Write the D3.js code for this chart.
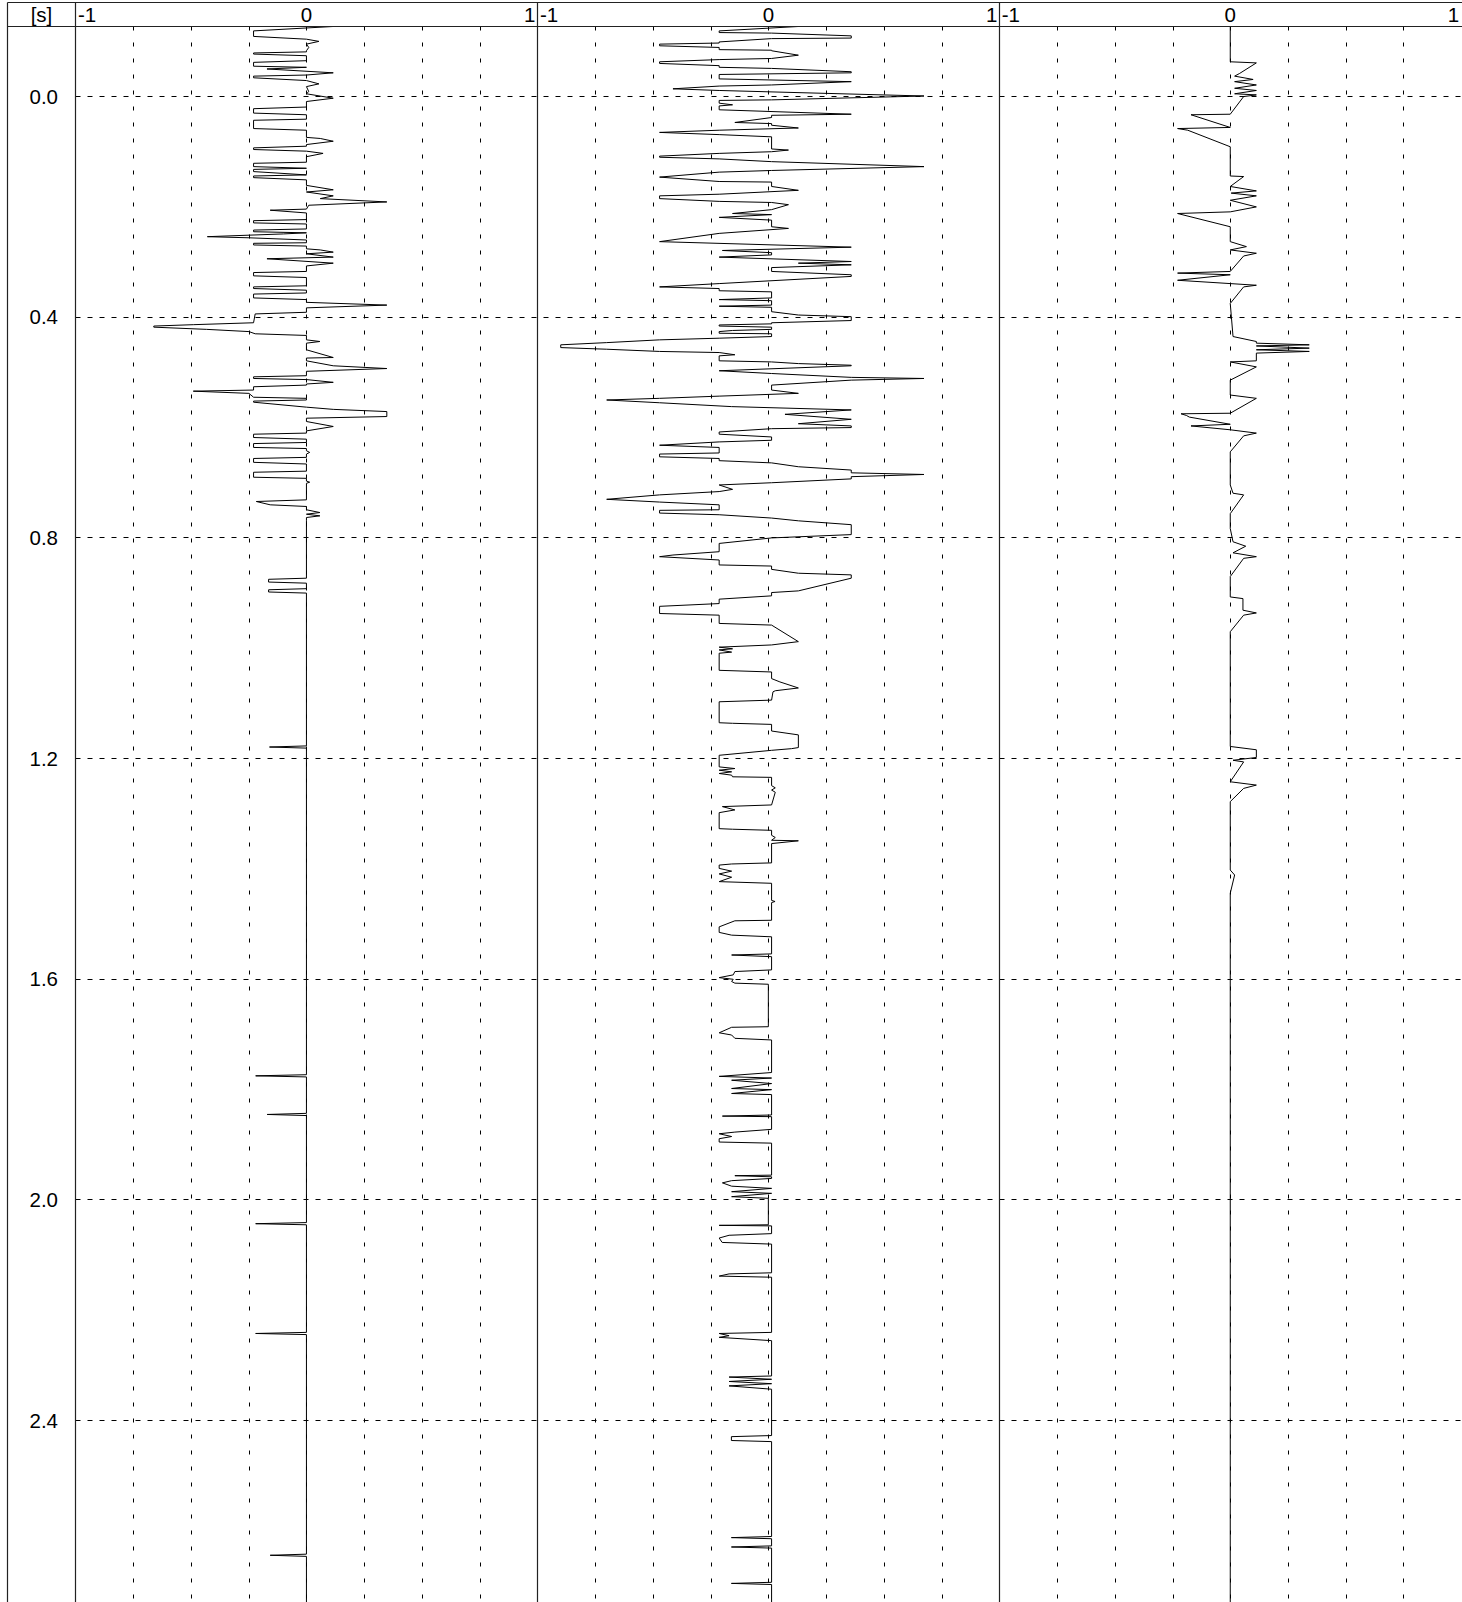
<!DOCTYPE html>
<html><head><meta charset="utf-8">
<script src="https://cdn.jsdelivr.net/npm/d3@7"></script>
<style>body{margin:0;background:#fff}svg{display:block}text{font-family:"Liberation Sans",Arial,Helvetica,sans-serif;fill:#000}</style>
</head><body><div id="chart"></div>
<script>
const timeTicks = [0.0, 0.4, 0.8, 1.2, 1.6, 2.0, 2.4];
const timeTickLabels = ["0.0", "0.4", "0.8", "1.2", "1.6", "2.0", "2.4"];
const ampTicks = [-1, 0, 1];
const gridAmps = [-0.75, -0.5, -0.25, 0, 0.25, 0.5, 0.75];
const timeUnit = "[s]";

// [time (s), amplitude]
const trace1 = [
[-0.126,0.116],[-0.118,-0.229],[-0.108,-0.229],[-0.103,0],[-0.099,0.054],[-0.094,0],[-0.088,0.01],[-0.082,0],[-0.080,0],
[-0.078,-0.229],[-0.076,-0.229],[-0.073,0],[-0.064,0],[-0.061,-0.229],[-0.054,-0.229],[-0.052,0],[-0.049,-0.171],[-0.042,0.116],
[-0.038,0],[-0.036,-0.229],[-0.033,-0.229],[-0.028,0],[-0.022,0.054],[-0.017,0],[-0.008,0.01],[-0.004,0],[0.004,0.116],[0.010,0],
[0.020,0],[0.023,-0.229],[0.031,-0.229],[0.034,0],[0.042,0],[0.044,-0.229],[0.059,-0.229],[0.062,0],[0.075,0],[0.077,0.06],
[0.082,0.116],[0.088,0],[0.091,0],[0.094,-0.229],[0.097,-0.229],[0.100,0],[0.104,0.072],[0.110,0],[0.120,0],[0.122,-0.229],
[0.128,-0.229],[0.131,0],[0.133,-0.229],[0.137,-0.229],[0.143,0],[0.145,-0.229],[0.148,-0.229],[0.152,0],[0.162,0],[0.170,0.116],
[0.174,0],[0.181,0.116],[0.186,0.06],[0.192,0.348],[0.198,0.01],[0.205,0],[0.207,-0.157],[0.212,0],[0.224,0],[0.226,-0.229],
[0.230,-0.229],[0.232,0],[0.241,0],[0.243,-0.229],[0.246,-0.229],[0.248,0],[0.250,-0.1],[0.255,-0.429],[0.257,-0.249],[0.261,0],
[0.266,0],[0.267,-0.229],[0.270,-0.229],[0.272,0],[0.277,0],[0.279,0.06],[0.283,0.116],[0.286,0],[0.292,0.116],[0.295,-0.171],
[0.303,0.116],[0.308,0],[0.318,0],[0.320,-0.229],[0.326,-0.229],[0.329,0],[0.344,0],[0.346,-0.229],[0.349,-0.229],[0.352,0],
[0.357,0],[0.359,-0.229],[0.366,-0.229],[0.369,0],[0.374,0],[0.379,0.348],[0.384,0],[0.392,0],[0.395,-0.222],[0.411,-0.229],
[0.4145,-0.49],[0.417,-0.661],[0.419,-0.661],[0.423,-0.432],[0.427,-0.249],[0.431,-0.222],[0.434,0],[0.442,0],[0.445,0.058],
[0.448,0],[0.460,0],[0.474,0.116],[0.475,0],[0.480,0],[0.489,0.116],[0.494,0.348],[0.499,0],[0.507,0],[0.509,-0.229],
[0.512,-0.229],[0.514,0],[0.519,0.116],[0.522,0],[0.524,0],[0.527,-0.229],[0.533,-0.229],[0.535,-0.49],[0.539,-0.249],
[0.546,-0.229],[0.548,0],[0.551,0],[0.553,-0.229],[0.555,-0.229],[0.564,0],[0.568,0.116],[0.572,0.348],[0.581,0.348],[0.584,0],
[0.590,0],[0.599,0.116],[0.607,0],[0.611,0],[0.613,-0.229],[0.619,-0.229],[0.622,0],[0.628,0],[0.630,-0.229],[0.637,-0.229],
[0.639,0],[0.643,0],[0.646,0.014],[0.649,0],[0.655,0],[0.657,-0.229],[0.664,-0.229],[0.667,0],[0.680,0],[0.682,-0.229],
[0.691,-0.229],[0.693,0],[0.698,0],[0.700,0.014],[0.702,0],[0.732,0],[0.735,-0.217],[0.741,-0.157],[0.744,0],[0.750,0],
[0.755,0.058],[0.758,0],[0.761,0.058],[0.764,0],[0.770,0],
[0.874,0],[0.876,-0.164],[0.881,-0.164],[0.883,0],[0.893,0],[0.895,-0.164],[0.899,-0.164],[0.901,0],
[1.178,0],[1.180,-0.16],[1.182,0],[1.774,0],[1.776,-0.22],[1.778,0],[1.844,0],[1.846,-0.17],[1.848,0],
[2.042,0],[2.044,-0.22],[2.046,0],[2.241,0],[2.243,-0.22],[2.245,0],[2.643,0],[2.645,-0.157],[2.647,0],[2.76,0]
];

const trace2 = [
[-0.126,0.130],[-0.118,-0.213],[-0.115,-0.213],[-0.114,0.014],[-0.109,0.359],[-0.105,0.359],[-0.104,0.014],[-0.098,-0.213],
[-0.096,-0.213],[-0.094,-0.471],[-0.091,-0.471],[-0.088,-0.213],[-0.084,-0.213],[-0.083,0.014],[-0.082,0.014],[-0.074,0.130],
[-0.068,0.014],[-0.066,-0.213],[-0.062,-0.471],[-0.059,-0.471],[-0.055,-0.213],[-0.052,-0.213],[-0.050,0.014],[-0.044,0.359],
[-0.042,0.359],[-0.039,-0.213],[-0.031,-0.213],[-0.026,0.359],[-0.020,0.014],[-0.018,-0.213],[-0.013,-0.413],[-0.010,-0.213],
[0.000,0.674],[0.007,0.014],[0.008,-0.213],[0.013,-0.213],[0.016,-0.155],[0.018,-0.213],[0.025,-0.213],[0.033,0.359],[0.035,0.014],
[0.039,0.014],[0.048,-0.145],[0.050,0.014],[0.053,0.014],[0.058,0.130],[0.062,-0.213],[0.066,-0.471],[0.070,-0.213],[0.074,0.014],
[0.096,0.014],[0.098,0.087],[0.101,0.014],[0.104,-0.213],[0.109,-0.471],[0.111,-0.471],[0.114,-0.213],[0.119,0.014],[0.128,0.674],
[0.135,0.014],[0.138,-0.213],[0.147,-0.471],[0.155,-0.213],[0.156,0.014],[0.164,0.014],[0.171,0.130],[0.178,-0.213],[0.181,-0.471],
[0.186,-0.471],[0.191,-0.213],[0.193,0.014],[0.197,0.087],[0.206,0.014],[0.213,-0.155],[0.215,0.014],[0.220,-0.213],[0.225,0.014],
[0.237,0.014],[0.240,0.087],[0.249,-0.213],[0.264,-0.471],[0.274,0.359],[0.280,-0.199],[0.284,0.014],[0.288,0.014],[0.292,-0.213],
[0.300,0.359],[0.303,0.130],[0.306,0.359],[0.311,0.014],[0.318,0.014],[0.324,0.359],[0.327,0.359],[0.340,-0.213],[0.346,-0.471],
[0.349,-0.213],[0.353,-0.213],[0.355,0.014],[0.366,0.014],[0.369,-0.213],[0.371,0.014],[0.379,0.014],[0.381,-0.213],[0.383,0.014],
[0.391,0.014],[0.397,0.130],[0.400,0.359],[0.407,0.359],[0.411,0.014],[0.413,0.014],[0.415,-0.213],[0.417,-0.213],[0.419,0.014],
[0.423,0.014],[0.425,-0.155],[0.427,-0.213],[0.430,-0.213],[0.431,0.014],[0.436,0.014],[0.439,-0.213],[0.442,-0.471],[0.447,-0.70],
[0.451,-0.899],[0.456,-0.899],[0.459,-0.70],[0.463,-0.471],[0.465,-0.213],[0.469,-0.145],[0.471,-0.213],[0.480,-0.213],[0.482,0.014],
[0.485,0.130],[0.488,0.359],[0.489,0.359],[0.498,-0.213],[0.503,0.014],[0.510,0.359],[0.512,0.674],[0.515,0.359],[0.524,0.014],
[0.533,0.014],[0.539,0.130],[0.544,-0.213],[0.548,-0.471],[0.551,-0.70],[0.556,-0.471],[0.563,-0.159],[0.569,0.359],[0.577,0.072],
[0.586,0.359],[0.594,0.130],[0.598,0.359],[0.601,0.359],[0.603,0.014],[0.609,-0.213],[0.613,-0.213],[0.618,0.014],[0.624,0.014],
[0.627,-0.213],[0.633,-0.471],[0.637,-0.213],[0.647,-0.213],[0.649,-0.471],[0.654,-0.471],[0.657,-0.213],[0.661,-0.213],[0.665,0.014],
[0.672,0.130],[0.678,0.359],[0.683,0.359],[0.686,0.674],[0.690,0.359],[0.694,0.359],[0.701,0.014],[0.705,-0.213],[0.713,-0.155],
[0.717,-0.213],[0.723,-0.471],[0.731,-0.70],[0.736,-0.471],[0.741,-0.213],[0.750,-0.213],[0.751,-0.471],[0.756,-0.471],[0.759,-0.213],
[0.765,0.014],[0.770,0.130],[0.777,0.359],[0.795,0.359],[0.801,0.014],[0.811,-0.213],[0.826,-0.213],[0.832,-0.413],[0.835,-0.471],
[0.841,-0.213],[0.850,-0.213],[0.852,0.014],[0.858,0.014],[0.865,0.130],[0.868,0.359],[0.874,0.359],[0.897,0.130],[0.900,0.014],
[0.906,0.014],[0.912,-0.213],[0.920,-0.213],[0.925,-0.471],[0.938,-0.471],[0.941,-0.213],[0.956,-0.213],[0.959,0.014],[0.989,0.130],
[0.995,0.014],[0.999,-0.213],[1.002,-0.155],[1.004,-0.213],[1.008,-0.159],[1.010,-0.213],[1.041,-0.213],[1.044,0.014],[1.056,0.014],
[1.062,0.05],[1.073,0.130],[1.078,0.03],[1.080,0.02],[1.095,0.014],[1.098,-0.213],[1.136,-0.213],[1.137,-0.155],[1.139,0.014],
[1.151,0.014],[1.158,0.130],[1.181,0.130],[1.183,0.100],[1.186,0.014],[1.195,-0.213],[1.216,-0.213],[1.219,-0.145],[1.222,-0.213],
[1.225,-0.159],[1.228,-0.213],[1.231,-0.159],[1.234,-0.155],[1.235,0.014],[1.250,0.014],[1.254,0.03],[1.258,0.014],[1.262,0.03],
[1.285,0.014],[1.288,-0.199],[1.294,-0.145],[1.299,-0.213],[1.328,-0.213],[1.329,-0.155],[1.331,0.014],[1.340,0.014],[1.344,0.03],
[1.349,0.014],[1.350,0.130],[1.355,0.014],[1.390,0.014],[1.392,-0.159],[1.394,-0.213],[1.400,-0.213],[1.405,-0.159],[1.410,-0.213],
[1.416,-0.159],[1.424,-0.213],[1.427,0.014],[1.458,0.014],[1.460,0.029],[1.462,0.014],[1.494,0.014],[1.495,-0.145],[1.506,-0.213],
[1.516,-0.213],[1.521,-0.159],[1.524,0.014],[1.555,0.014],[1.557,-0.159],[1.560,0.014],[1.584,0.014],[1.587,-0.145],[1.593,-0.152],
[1.598,-0.213],[1.601,-0.152],[1.605,-0.159],[1.608,-0.145],[1.610,0],[1.687,0],[1.688,-0.159],[1.698,-0.213],[1.702,-0.159],
[1.708,-0.145],[1.711,0.014],[1.770,0.014],[1.777,-0.213],[1.780,0.014],[1.784,-0.159],[1.790,0.014],[1.799,-0.159],[1.801,0.014],
[1.808,-0.159],[1.810,0.014],[1.847,0.014],[1.849,-0.199],[1.850,0.014],[1.873,0.014],[1.878,-0.145],[1.881,-0.213],[1.886,-0.159],
[1.890,-0.213],[1.896,-0.213],[1.898,0.014],[1.956,0.014],[1.957,-0.145],[1.959,0.014],[1.962,0.014],[1.966,-0.159],[1.970,-0.199],
[1.976,-0.159],[1.980,0.014],[1.986,-0.159],[1.989,0.014],[1.995,-0.159],[1.998,0.0],[2.046,0.0],[2.047,-0.213],[2.048,0.014],
[2.062,0.014],[2.065,-0.17],[2.070,-0.213],[2.078,-0.2],[2.081,0.014],[2.133,0.014],[2.135,-0.17],[2.139,-0.213],[2.141,0.014],
[2.241,0.014],[2.243,-0.213],[2.247,-0.17],[2.250,-0.213],[2.256,0.014],[2.320,0.014],[2.322,-0.17],[2.326,0.014],[2.330,-0.17],
[2.334,0.014],[2.338,-0.17],[2.344,0.014],[2.428,0.014],[2.430,-0.16],[2.437,-0.16],[2.439,0.014],[2.611,0.014],[2.613,-0.16],
[2.615,0.014],[2.628,0.014],[2.630,-0.16],[2.632,0.014],[2.694,0.014],[2.696,-0.16],[2.698,0.014],[2.76,0.014]
];

const trace3 = [
[-0.13,0],[-0.062,0],[-0.060,0.113],[-0.041,0.041],[-0.036,0.019],[-0.030,0.099],[-0.026,0.019],[-0.020,0.113],[-0.014,0.019],
[-0.010,0.113],[-0.004,0.019],[-0.002,0.113],[0.001,0.058],[0.033,0],[0.034,-0.17],[0.057,0],[0.059,-0.228],[0.062,-0.184],
[0.092,0],[0.145,0],[0.146,0.058],[0.164,0],[0.172,0.113],[0.176,0.004],[0.181,0.113],[0.189,0],[0.201,0.113],[0.210,0],
[0.213,-0.228],[0.237,0],[0.264,0],[0.273,0.07],[0.279,0],[0.285,0.113],[0.290,0.058],[0.318,0],[0.321,-0.228],[0.324,0],
[0.334,-0.228],[0.340,0],[0.343,0.113],[0.346,0.058],[0.376,0],[0.436,0.012],[0.445,0.113],[0.448,0.113],[0.451,0.342],
[0.453,0.113],[0.457,0.342],[0.460,0.113],[0.463,0.342],[0.466,0.113],[0.480,0.113],[0.482,0],[0.491,0.113],[0.515,0],
[0.542,0],[0.548,0.113],[0.575,0],[0.576,-0.213],[0.579,-0.19],[0.582,-0.177],[0.595,0],[0.598,-0.17],[0.605,0],[0.611,0.113],
[0.616,0.058],[0.645,0],[0.705,0],[0.720,0.012],[0.723,0.058],[0.757,0],[0.784,0],[0.808,0.012],[0.816,0.067],[0.828,0.012],
[0.835,0.113],[0.838,0.058],[0.871,0],[0.908,0],[0.911,0.055],[0.932,0.055],[0.937,0.113],[0.941,0.058],[0.971,0],[1.179,0],
[1.185,0.113],[1.199,0.113],[1.204,0.012],[1.207,0.058],[1.243,0],[1.249,0.113],[1.255,0.058],[1.279,0],[1.403,0],[1.412,0.019],
[1.445,0],[2.76,0]
];

const traces = [trace1, trace2, trace3];

const W = 1462, H = 1602;
const frameL = 7.5, frameT = 2.5, labelR = 75.5, headB = 26.5;
const panelW = 461.9;

const svg = d3.select("#chart").append("svg").attr("width", W).attr("height", H);
const y = d3.scaleLinear().domain([0, 2.4]).range([96, 1420.1]);

svg.append("defs").append("clipPath").attr("id", "plotclip")
  .append("rect").attr("x", labelR).attr("y", headB).attr("width", W - labelR).attr("height", H - headB);

const plot = svg.append("g").attr("clip-path", "url(#plotclip)");

const xScales = traces.map((_, i) => d3.scaleLinear().domain([-1, 1]).range([labelR + i * panelW, labelR + (i + 1) * panelW]));

// vertical dashed grid
xScales.forEach(xs => {
  plot.selectAll(null).data(gridAmps).enter().append("line")
    .attr("x1", d => Math.round(xs(d)) + 0.5).attr("x2", d => Math.round(xs(d)) + 0.5)
    .attr("y1", headB).attr("y2", H)
    .attr("stroke", "#000").attr("stroke-width", 1).attr("stroke-dasharray", "4,12");
});
// horizontal dashed grid
plot.selectAll(null).data(timeTicks).enter().append("line")
  .attr("x1", labelR).attr("x2", W)
  .attr("y1", d => Math.round(y(d)) + 0.5).attr("y2", d => Math.round(y(d)) + 0.5)
  .attr("stroke", "#000").attr("stroke-width", 1).attr("stroke-dasharray", "5,7");

// traces
const line = xs => d3.line().x(d => xs(d[1])).y(d => y(d[0]));
traces.forEach((tr, i) => {
  plot.append("path").datum(tr).attr("d", line(xScales[i]))
    .attr("fill", "none").attr("stroke", "#000").attr("stroke-width", 1).attr("stroke-linejoin", "miter");
});

// frame lines
const frame = svg.append("g").attr("stroke", "#222").attr("stroke-width", 1.2);
frame.append("line").attr("x1", frameL).attr("x2", W).attr("y1", frameT).attr("y2", frameT);
frame.append("line").attr("x1", frameL).attr("x2", W).attr("y1", headB).attr("y2", headB);
frame.append("line").attr("x1", frameL).attr("x2", frameL).attr("y1", frameT).attr("y2", H);
frame.append("line").attr("x1", labelR).attr("x2", labelR).attr("y1", frameT).attr("y2", H);
xScales.slice(0, 2).forEach(xs => {
  const xr = Math.round(xs(1)) + 0.5;
  frame.append("line").attr("x1", xr).attr("x2", xr).attr("y1", frameT).attr("y2", H);
});

// header amplitude labels
xScales.forEach(xs => {
  const g = svg.append("g").attr("font-size", 20.5);
  g.selectAll(null).data(ampTicks).enter().append("text")
    .attr("x", d => d === -1 ? xs(d) + 2.5 : d === 1 ? xs(d) - 2 : xs(d))
    .attr("y", 22)
    .attr("text-anchor", d => d === -1 ? "start" : d === 1 ? "end" : "middle")
    .text(d => String(d));
});
svg.append("text").attr("x", 41.5).attr("y", 22).attr("font-size", 20.5).attr("text-anchor", "middle").text(timeUnit);

// time labels
svg.append("g").attr("font-size", 20.5).selectAll(null).data(timeTicks).enter().append("text")
  .attr("x", 58).attr("y", d => y(d) + 7.5).attr("text-anchor", "end")
  .text((d, i) => timeTickLabels[i]);
</script></body></html>
